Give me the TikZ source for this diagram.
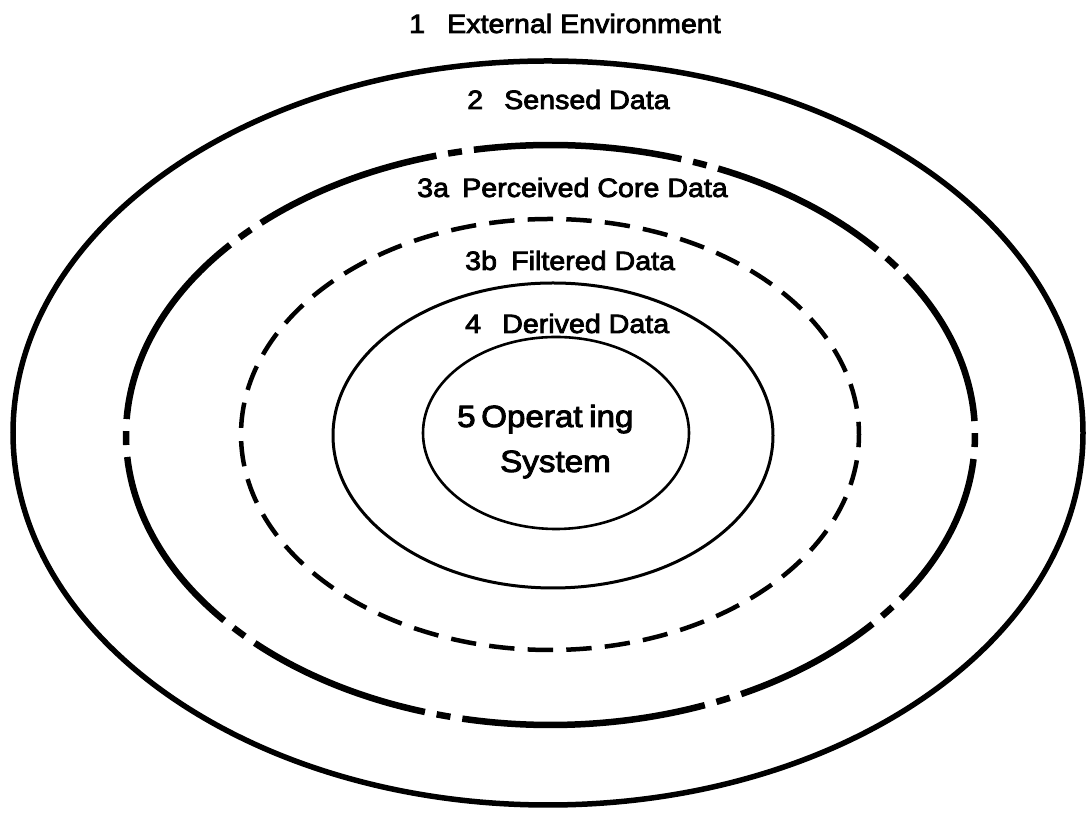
\documentclass[tikz,border=0pt]{standalone}
\usepackage{fontspec}
\setmainfont{Liberation Sans}[FakeStretch=1.08, FakeBold=3]
% degrees of parametric angle per unit of arc length on the sensed-data ring
\pgfmathdeclarefunction{dpp}{1}{%
  \pgfmathparse{0.572958/sqrt((4.245*sin(#1))^2+(2.9*cos(#1))^2)}}
\begin{document}
\begin{tikzpicture}[x=1pt,y=1pt,
  outerring/.style={line width=5.5pt},
  sensed/.style={line width=6.5pt},
  filtered/.style={line width=4.5pt, dash pattern=on 25.4pt off 13.23pt, dash phase=12.7pt},
  derived/.style={line width=3pt},
  core/.style={line width=2.6pt},
  lbl/.style={anchor=base west, inner sep=0pt, font=\fontsize{26.5}{30}\selectfont},
  biglbl/.style={anchor=base west, inner sep=0pt, font=\fontsize{30.7}{34}\selectfont}]
\useasboundingbox (0,0) rectangle (1088,813);

% ring centres
\coordinate (c1) at (548,380);
\coordinate (c2) at (550.5,378);
\coordinate (c3) at (550,378.5);
\coordinate (c4) at (553,377.5);
\coordinate (c5) at (556,380);

% 1  external environment boundary
\draw[outerring] (c1) ellipse [x radius=535, y radius=372];

% 2  sensed data boundary: long strokes, each break holding one short stroke
\def\RX{424.5}\def\RY{290}
\foreach \a/\b in {-1/36.5,36.5/69.4,69.4/103,103/136,136/180.6,
                   180.6/222.8,222.8/255.4,255.4/294,294/322.5,322.5/359}{
  \pgfmathsetmacro\s{\a+19*dpp(\a)}
  \pgfmathsetmacro\e{\b-19*dpp(\b)}
  \draw[sensed] ([shift={({\RX*cos(\s)},{\RY*sin(\s)})}]c2)
    arc[start angle=\s, end angle=\e, x radius=\RX, y radius=\RY];
  \pgfmathsetmacro\p{\b-7*dpp(\b)}
  \pgfmathsetmacro\q{\b+7*dpp(\b)}
  \draw[sensed] ([shift={({\RX*cos(\p)},{\RY*sin(\p)})}]c2)
    arc[start angle=\p, end angle=\q, x radius=\RX, y radius=\RY];
}

% 3b  filtered data boundary
\draw[filtered] (c3) ellipse [x radius=309, y radius=215.5];

% 4  derived data boundary
\draw[derived] (c4) ellipse [x radius=220, y radius=152.5];

% 5  operating system
\draw[core] (c5) ellipse [x radius=133, y radius=96];

% labels
\node[lbl] (n1) at (409,780) {1};
\node[lbl] (t1) at (447,780) {External Environment};
\node[lbl] (n2) at (467,704) {2};
\node[lbl] (t2) at (504,704) {Sensed Data};
\node[lbl] (n3a) at (417,616) {3a};
\node[lbl] (t3a) at (462,616) {Perceived Core Data};
\node[lbl] (n3b) at (465,543) {3b};
\node[lbl] (t3b) at (511,543) {Filtered Data};
\node[lbl] (n4) at (465,480) {4};
\node[lbl] (t4) at (502,480) {Derived Data};
\node[biglbl] (n5) at (457,386) {5};
\node[biglbl] (t5a) at (481,386) {Operat};
\node[biglbl] (t5b) at (589,386) {ing};
\node[biglbl] (t5c) at (500,341) {System};
\end{tikzpicture}
\end{document}
